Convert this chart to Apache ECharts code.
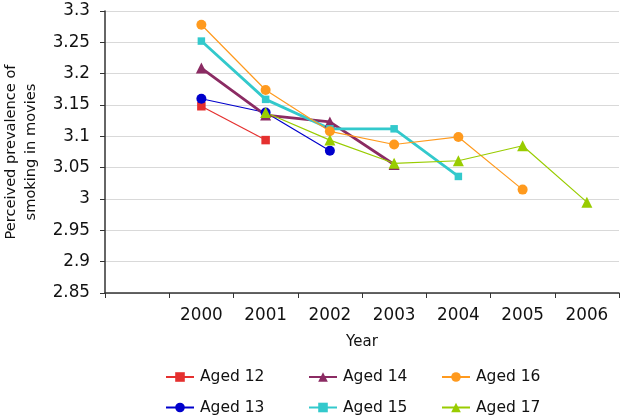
<!DOCTYPE html>
<html>
<head>
<meta charset="utf-8">
<script src="https://cdn.jsdelivr.net/npm/echarts@6/dist/echarts.min.js"></script>
<style>
html,body{margin:0;padding:0;background:#fff;}
#chart{width:622px;height:419px;}
</style>
</head>
<body>
<div id="chart"></div>
<script>
var categories = ['', '2000', '2001', '2002', '2003', '2004', '2005', '2006'];
var aged12 = [null, 3.148, 3.094, null, null, null, null, null];
var aged13 = [null, 3.160, 3.138, 3.077, null, null, null, null];
var aged14 = [null, 3.209, 3.134, 3.123, 3.055, null, null, null];
var aged15 = [null, 3.252, 3.159, 3.112, 3.112, 3.036, null, null];
var aged16 = [null, 3.278, 3.174, 3.108, 3.087, 3.099, 3.015, null];
var aged17 = [null, null, 3.138, 3.094, 3.057, 3.061, 3.085, 2.995];
var yTicks = {min: 2.85, max: 3.3, interval: 0.05};

var font = 'DejaVu Sans';
function mk(name, data, color, symbol, size, width) {
  return {
    name: name, type: 'line', data: data, symbol: symbol, symbolSize: size,
    connectNulls: false,
    lineStyle: {color: color, width: width},
    itemStyle: {color: color},
    emphasis: {disabled: true},
    z: 2
  };
}
var chart = echarts.init(document.getElementById('chart'), null, {renderer: 'canvas'});
var legendBase = {
  orient: 'vertical', top: 369, height: 80, itemWidth: 28, itemHeight: 12, itemGap: 14.5,
  textStyle: {fontFamily: font, fontSize: 15.5, color: '#111', padding: [0, 0, 0, 1]},
  padding: 0
};
chart.setOption({
  animation: false,
  backgroundColor: '#ffffff',
  grid: {left: 105, right: 3, top: 11, bottom: 126, containLabel: false, outerBoundsMode: 'none'},
  legend: [
    Object.assign({}, legendBase, {left: 165, data: ['Aged 12', 'Aged 13']}),
    Object.assign({}, legendBase, {left: 308, data: ['Aged 14', 'Aged 15']}),
    Object.assign({}, legendBase, {left: 441, data: ['Aged 16', 'Aged 17']})
  ],
  xAxis: {
    type: 'category', data: categories, boundaryGap: true,
    name: 'Year', nameLocation: 'middle', nameGap: 42,
    nameTextStyle: {fontFamily: font, fontSize: 15, color: '#111'},
    axisLine: {lineStyle: {color: '#333', width: 1.5}},
    axisTick: {show: true, length: 5, lineStyle: {color: '#333'}},
    axisLabel: {fontFamily: font, fontSize: 16.8, color: '#111', margin: 14, interval: 0},
    splitLine: {show: false}
  },
  yAxis: {
    type: 'value', min: yTicks.min, max: yTicks.max, interval: yTicks.interval,
    name: 'Perceived prevalence of\nsmoking in movies', nameLocation: 'middle', nameGap: 64,
    nameTextStyle: {fontFamily: font, fontSize: 14.6, color: '#111', lineHeight: 20},
    axisLine: {show: true, lineStyle: {color: '#333', width: 1.5}},
    axisTick: {show: true, length: 5, lineStyle: {color: '#333'}},
    axisLabel: {fontFamily: font, fontSize: 16.8, color: '#111', margin: 15,
      formatter: function (v) { return String(parseFloat(v.toFixed(2))); }},
    splitLine: {show: true, lineStyle: {color: '#d9d9d9', width: 1}}
  },
  series: [
    mk('Aged 12', aged12, '#e5302f', 'rect', 8.5, 1.2),
    mk('Aged 13', aged13, '#0000cc', 'circle', 10, 1.2),
    mk('Aged 14', aged14, '#8b2b63', 'triangle', 11, 2.8),
    mk('Aged 15', aged15, '#33c9cc', 'rect', 7.5, 2.8),
    mk('Aged 16', aged16, '#ff9a1e', 'circle', 10, 1.2),
    mk('Aged 17', aged17, '#99cc00', 'triangle', 11, 1.2)
  ]
});
</script>
</body>
</html>
